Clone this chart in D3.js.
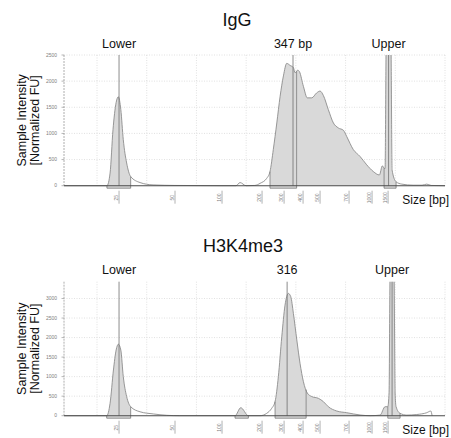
<!DOCTYPE html>
<html lang="en">
<head>
<meta charset="UTF-8">
<title>IgG / H3K4me3 electropherograms</title>
<script src="https://d3js.org/d3.v7.min.js"></script>
<style>
  body { margin: 0; background: #fff; }
  svg { display: block; font-family: "Liberation Sans", Arial, Helvetica, sans-serif; }
  .tick-label { font-size: 5px; fill: #808080; }
  .peak-label { font-size: 12.5px; fill: #111; }
  .title { font-size: 18px; fill: #111; }
  .axis-title { font-size: 12.5px; fill: #111; }
  .size-title { font-size: 12px; fill: #111; }
</style>
</head>
<body>
<svg width="451" height="438"></svg>
<script>
// ladder sizes and where they sit along the run (arbitrary time units)
const ladderSizes = [25, 50, 100, 200, 300, 400, 500, 700, 1000, 1500];
const ladderTimes = [1.443, 2.569, 3.515, 4.320, 4.763, 5.145, 5.487, 6.070, 6.533, 6.855];
const timeDomain = [0.336, 8.0];
const gridTimes = [1, 2, 3, 4, 5, 6, 7, 8];

// IgG trace
const igGSize = [0.5, 16.5, 19.6, 21.0, 22.3, 23.7, 24.7, 25.8, 26.9, 28.4, 30.2, 34.4, 40.2, 50, 100, 135, 145, 160, 182, 195,
  221, 236, 251, 267, 282, 297, 314, 332, 349, 358, 372, 381, 402, 425, 451, 480, 500, 523, 557, 592,
  626, 661, 684, 756, 843, 930, 1041, 1228, 1322, 1375, 1406, 1437, 1469, 1516, 1562, 1594, 1625, 1750, 1928, 2281,
  2562, 2709, 2844, 3278];
const igGValue = [0, 0, 0, 240, 1070, 1590, 1700, 1455, 880, 435, 175, 60, 15, 5, 0, 0, 60, 0, 5, 45,
  140, 270, 690, 1200, 1710, 2100, 2340, 2300, 2260, 2160, 2210, 2180, 1900, 1680, 1680, 1775, 1810, 1725, 1455, 1200,
  1105, 1060, 940, 690, 560, 400, 270, 205, 380, 335, 330, 2600, 3600, 3800, 3600, 2600, 300, 75, 30, 10,
  10, 30, 5, 0];
const igGBoxes = [[19.6, 30.2], [236, 366], [1375, 1750]];
const igGSmear = [[366, 1375]];
const igGMarkerNames = ["Lower", "347 bp", "Upper"];
const igGMarkerSizes = [25, 347, 1516];
const igGYTicks = [0, 500, 1000, 1500, 2000, 2500];

// H3K4me3 trace
const h3Size = [0.5, 16.5, 19.5, 21.0, 22.5, 23.7, 24.7, 25.8, 26.9, 28.4, 30.2, 34.4, 40.3, 46.3, 55, 132.5, 146.8, 165.8, 195, 221,
  244, 259, 274, 289.5, 305, 322.6, 335, 349, 367, 384, 402, 425, 451, 490, 523, 557, 615, 684, 843, 974,
  1250, 1406, 1491, 1531, 1562, 1625, 1687, 1719, 1750, 1875, 2084, 2397, 2709, 2834, 2875];
const h3Value = [0, 0, 0, 317, 1170, 1680, 1830, 1680, 1000, 490, 230, 100, 45, 10, 0, 0, 205, 0, 0, 60,
  190, 360, 1000, 2020, 2830, 3130, 3050, 2620, 1940, 1340, 870, 580, 490, 445, 360, 230, 120, 77, 18, 0,
  15, 230, 230, 600, 3600, 4200, 3600, 600, 230, 60, 15, 30, 77, 120, 0];
const h3Boxes = [[19.5, 30.2], [132.5, 165.8], [259, 418], [1491, 1875]];
const h3Smear = [[418, 1491]];
const h3MarkerNames = ["Lower", "316", "Upper"];
const h3MarkerSizes = [25, 316, 1625];
const h3YTicks = [0, 500, 1000, 1500, 2000, 2500, 3000];

const svg = d3.select("svg");
const sizeToTime = d3.scaleLinear().domain(ladderSizes).range(ladderTimes);
const xt = d3.scaleLinear().domain(timeDomain).range([64, 445]);
const x = s => xt(sizeToTime(s));

let clipId = 0;

function drawPanel(p) {
  const y = d3.scaleLinear().domain([0, p.yMax]).range([p.base, p.top]);
  const g = svg.append("g");
  const pts = p.size.map((s, i) => [s, p.value[i]]);

  // value at a size, interpolated along the drawn x
  function valueAt(s) {
    const i = d3.bisectRight(p.size, s);
    if (i <= 0) return p.value[0];
    if (i >= p.size.length) return p.value[p.size.length - 1];
    const x0 = x(p.size[i - 1]), x1 = x(p.size[i]);
    const t = (x(s) - x0) / (x1 - x0);
    return p.value[i - 1] + t * (p.value[i] - p.value[i - 1]);
  }

  // plot clip
  const pc = "pc" + (clipId++);
  svg.append("clipPath").attr("id", pc).append("rect")
    .attr("x", 64).attr("y", p.top).attr("width", 381).attr("height", p.base - p.top + 5);

  // grid
  g.selectAll(".vg").data(gridTimes).enter().append("line")
    .attr("x1", d => xt(d)).attr("x2", d => xt(d))
    .attr("y1", p.top).attr("y2", p.base)
    .attr("stroke", "#d4d4d4").attr("stroke-width", 0.7).attr("stroke-dasharray", "1,1.5");
  g.selectAll(".hg").data(p.yTicks.filter(d => d > 0)).enter().append("line")
    .attr("x1", 64).attr("x2", 445)
    .attr("y1", d => y(d)).attr("y2", d => y(d))
    .attr("stroke", "#d4d4d4").attr("stroke-width", 0.7).attr("stroke-dasharray", "1,1.5");

  const plot = g.append("g").attr("clip-path", "url(#" + pc + ")");

  // shaded regions
  const regions = p.boxes.map(r => ({ r: r, box: true })).concat(p.smear.map(r => ({ r: r, box: false })));
  regions.forEach(reg => {
    const id = "rc" + (clipId++);
    svg.append("clipPath").attr("id", id).append("rect")
      .attr("x", x(reg.r[0])).attr("y", p.top - 200)
      .attr("width", x(reg.r[1]) - x(reg.r[0])).attr("height", 600);
    const area = d3.area().curve(d3.curveMonotoneX)
      .x(d => x(d[0])).y0(reg.box ? p.base + 2.5 : p.base).y1(d => y(d[1]));
    plot.append("g").attr("clip-path", "url(#" + id + ")")
      .append("path").datum(pts).attr("d", area).attr("fill", "#d9d9d9");
  });

  // trace
  const line = d3.line().curve(d3.curveMonotoneX).x(d => x(d[0])).y(d => y(d[1]));
  plot.append("path").datum(pts).attr("d", line)
    .attr("fill", "none").attr("stroke", "#8c8c8c").attr("stroke-width", 0.9);

  // box outlines
  p.boxes.forEach(r => {
    const xa = x(r[0]), xb = x(r[1]);
    const path = d3.path();
    path.moveTo(xa, y(valueAt(r[0])));
    path.lineTo(xa, p.base + 2.5);
    path.lineTo(xb, p.base + 2.5);
    path.lineTo(xb, y(valueAt(r[1])));
    plot.append("path").attr("d", path.toString())
      .attr("fill", "none").attr("stroke", "#7a7a7a").attr("stroke-width", 0.8);
  });

  // peak markers
  g.selectAll(".mk").data(p.markerSizes).enter().append("line")
    .attr("x1", d => x(d)).attr("x2", d => x(d))
    .attr("y1", p.top).attr("y2", p.base)
    .attr("stroke", "#6e6e6e").attr("stroke-width", 0.8);
  g.selectAll(".ml").data(p.markerNames).enter().append("text")
    .attr("class", "peak-label")
    .attr("x", (d, i) => x(p.markerSizes[i])).attr("y", p.labelY)
    .attr("text-anchor", "middle").text(d => d);

  // y axis
  g.append("line").attr("x1", 64).attr("x2", 64).attr("y1", p.top).attr("y2", p.base)
    .attr("stroke", "#9a9a9a").attr("stroke-width", 0.8).attr("stroke-dasharray", "2,1");
  g.selectAll(".yt").data(p.yTicks).enter().append("line")
    .attr("x1", 61.5).attr("x2", 64).attr("y1", d => y(d)).attr("y2", d => y(d))
    .attr("stroke", "#9a9a9a").attr("stroke-width", 0.7);
  g.selectAll(".yl").data(p.yTicks).enter().append("text")
    .attr("class", "tick-label")
    .attr("x", 57).attr("y", d => y(d)).attr("dy", "0.35em")
    .attr("text-anchor", "end").text(d => d);

  // x axis
  g.append("line").attr("x1", 64).attr("x2", 445).attr("y1", p.base).attr("y2", p.base)
    .attr("stroke", "#4a4a4a").attr("stroke-width", 1.1);
  g.selectAll(".xt").data(ladderSizes).enter().append("line")
    .attr("x1", d => x(d)).attr("x2", d => x(d))
    .attr("y1", p.base + 5).attr("y2", p.base + 18)
    .attr("stroke", "#a0a0a0").attr("stroke-width", 0.8);
  g.selectAll(".xl").data(ladderSizes).enter().append("text")
    .attr("class", "tick-label")
    .attr("transform", d => "translate(" + (x(d) - 1.5) + "," + (p.base + 12) + ") rotate(-90)")
    .attr("text-anchor", "middle").text(d => d);
  g.append("text").attr("class", "size-title")
    .attr("x", 449).attr("y", p.base + 18)
    .attr("text-anchor", "end").text("Size [bp]");

  // y title
  const cy = (p.top + p.base) / 2;
  g.append("text").attr("class", "axis-title")
    .attr("transform", "translate(26," + cy + ") rotate(-90)")
    .attr("text-anchor", "middle").text("Sample Intensity");
  g.append("text").attr("class", "axis-title")
    .attr("transform", "translate(39," + cy + ") rotate(-90)")
    .attr("text-anchor", "middle").text("[Normalized FU]");

  // title
  g.append("text").attr("class", "title")
    .attr("x", p.titleX).attr("y", p.titleY)
    .attr("text-anchor", "middle").text(p.title);
}

drawPanel({
  title: "IgG", titleX: 237, titleY: 26,
  top: 55, base: 185.7, yMax: 2500, labelY: 48,
  size: igGSize, value: igGValue, boxes: igGBoxes, smear: igGSmear,
  markerNames: igGMarkerNames, markerSizes: igGMarkerSizes, yTicks: igGYTicks
});

drawPanel({
  title: "H3K4me3", titleX: 243, titleY: 252,
  top: 281.7, base: 415.7, yMax: 3430, labelY: 274,
  size: h3Size, value: h3Value, boxes: h3Boxes, smear: h3Smear,
  markerNames: h3MarkerNames, markerSizes: h3MarkerSizes, yTicks: h3YTicks
});
</script>
</body>
</html>
